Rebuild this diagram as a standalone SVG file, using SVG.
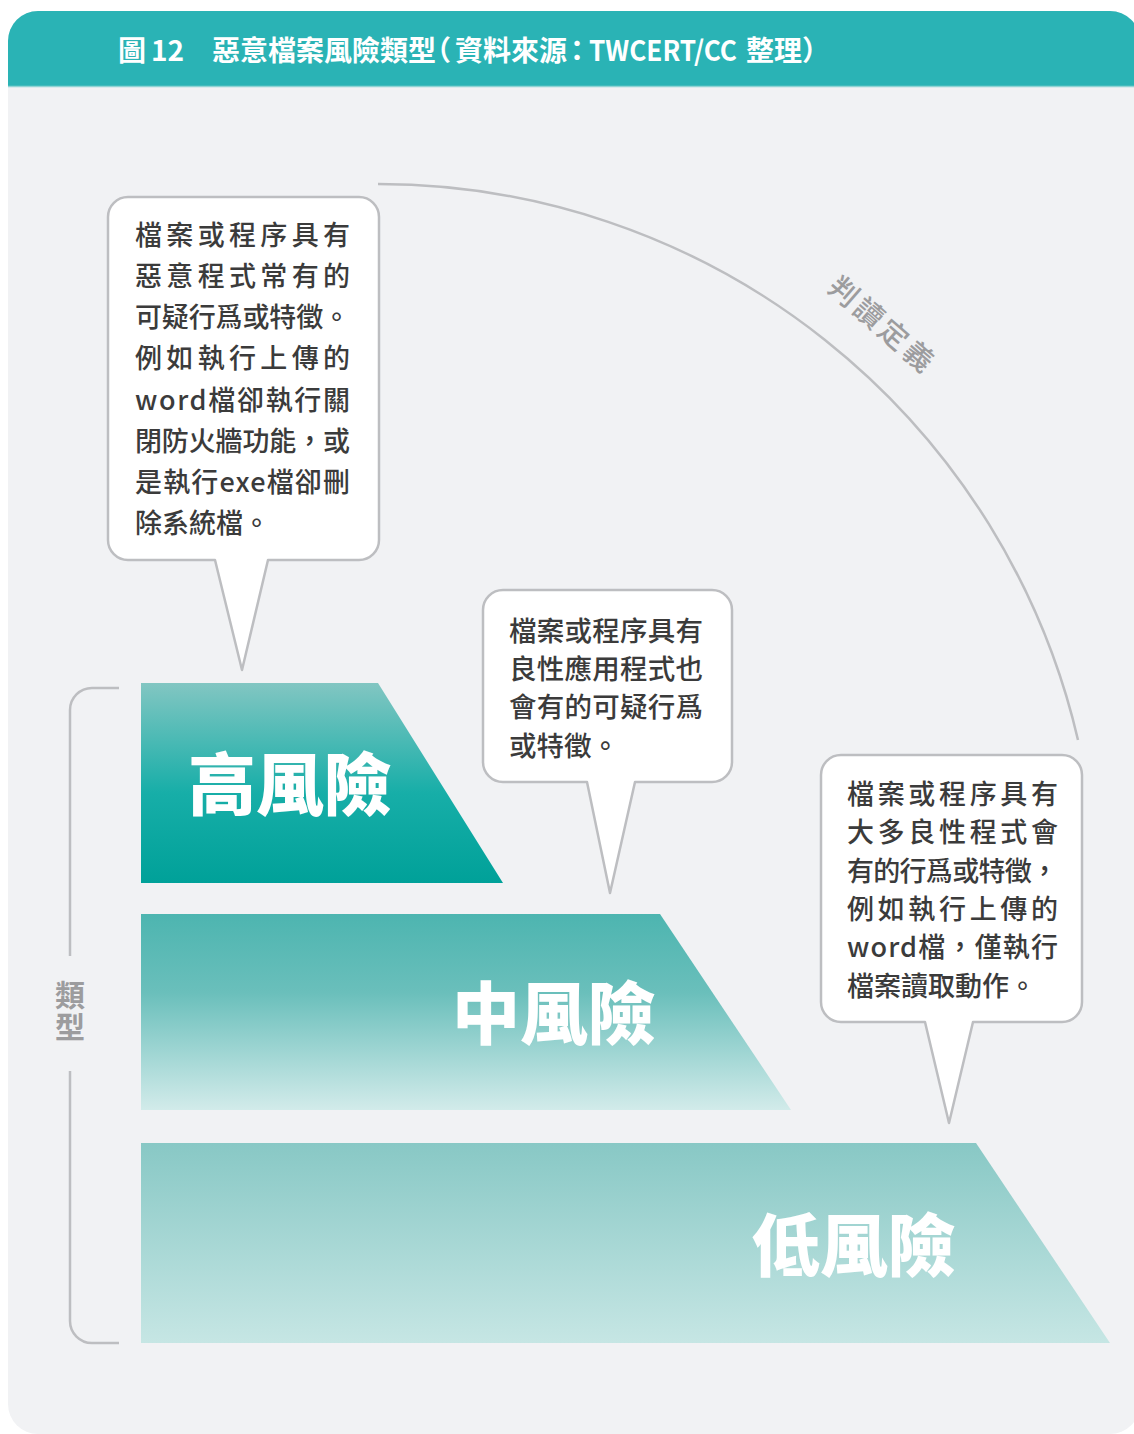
<svg xmlns="http://www.w3.org/2000/svg" width="1134" height="1434" viewBox="0 0 1134 1434">
<defs>
<style>
.cjk{font-family:"Noto Sans CJK TC","Noto Sans CJK SC","Noto Sans",sans-serif;}
.body{font-size:27px;font-weight:500;fill:#3b3b3b;}
.body2{font-size:27.5px;font-weight:500;fill:#3b3b3b;}
.big{font-size:68px;font-weight:900;fill:#ffffff;}
.callout{fill:#ffffff;stroke:#bdbec1;stroke-width:2.5;stroke-linejoin:round;}
.guide{fill:none;stroke:#bdbec1;stroke-width:2.5;}
.grey{fill:#9c9c9e;}
.half{font-feature-settings:"halt";}
</style>
<linearGradient id="gHigh" x1="0" y1="0" x2="0" y2="1">
<stop offset="0" stop-color="#82c6c2"/>
<stop offset="0.55" stop-color="#17aea8"/>
<stop offset="1" stop-color="#00a199"/>
</linearGradient>
<linearGradient id="gMid" x1="0" y1="0" x2="0" y2="1">
<stop offset="0" stop-color="#4db5b0"/>
<stop offset="0.4" stop-color="#6abfbb"/>
<stop offset="1" stop-color="#d2ebea"/>
</linearGradient>
<linearGradient id="gLow" x1="0" y1="0" x2="0" y2="1">
<stop offset="0" stop-color="#88c8c5"/>
<stop offset="1" stop-color="#c6e6e4"/>
</linearGradient>
</defs>
<rect x="0" y="0" width="1134" height="1434" fill="#ffffff"/>
<g id="panel">
<rect x="8" y="11" width="1132" height="1423" rx="30" ry="30" fill="#f1f2f4"/>
<path d="M 8 86 V 41 A 30 30 0 0 1 38 11 H 1110 A 30 30 0 0 1 1140 41 V 86 Z" fill="#2ab3b5"/>
<line x1="8" y1="86.5" x2="1140" y2="86.5" stroke="#8fd4d4" stroke-width="1.5"/>
</g>
<g id="title" class="cjk" font-size="28" font-weight="700" fill="#ffffff">
<text y="61"><tspan x="118">圖</tspan><tspan x="151">12</tspan><tspan x="212">惡意檔案風險類型</tspan><tspan class="half" x="437">（</tspan><tspan x="455">資料來源</tspan><tspan class="half" x="570">：</tspan><tspan x="589" textLength="148" lengthAdjust="spacingAndGlyphs">TWCERT/CC</tspan><tspan x="746">整理</tspan><tspan class="half" x="802">）</tspan></text>
</g>
<g id="connectors">
<path class="guide" d="M 378 184 A 718.6 718.6 0 0 1 1078 740"/>
<path class="guide" d="M 119 688 H 92 A 22 22 0 0 0 70 710 V 956"/>
<path class="guide" d="M 70 1071 V 1321 A 22 22 0 0 0 92 1343 H 119"/>
</g>
<g id="label-judge" class="cjk grey">
<text transform="translate(881.5 323.5) rotate(41)" x="-64" y="11" font-size="29" font-weight="500" textLength="128" lengthAdjust="spacing">判讀定義</text>
</g>
<g id="label-type" class="cjk grey">
<text x="70" y="980" font-size="30" font-weight="700" writing-mode="vertical-rl" letter-spacing="2">類型</text>
</g>
<g id="high-risk">
<polygon points="141,683 378,683 503,883 141,883" fill="url(#gHigh)"/>
<text class="cjk big" x="188" y="810">高風險</text>
</g>
<g id="mid-risk">
<polygon points="141,914 660,914 791,1110 141,1110" fill="url(#gMid)"/>
<text class="cjk big" x="452" y="1039">中風險</text>
</g>
<g id="low-risk">
<polygon points="141,1143 976,1143 1110,1343 141,1343" fill="url(#gLow)"/>
<text class="cjk big" x="752" y="1271">低風險</text>
</g>
<g id="callout-high">
<path class="callout" d="M 128 197 H 359 A 20 20 0 0 1 379 217 V 540 A 20 20 0 0 1 359 560 H 268 L 242 670 L 215 560 H 128 A 20 20 0 0 1 108 540 V 217 A 20 20 0 0 1 128 197 Z"/>
<g class="cjk body">
<text x="135" y="245" textLength="215" lengthAdjust="spacing">檔案或程序具有</text>
<text x="135" y="286" textLength="215" lengthAdjust="spacing">惡意程式常有的</text>
<text x="135" y="327" textLength="215" lengthAdjust="spacing">可疑行爲或特徵。</text>
<text x="135" y="368" textLength="215" lengthAdjust="spacing">例如執行上傳的</text>
<text x="135" y="410" textLength="215" lengthAdjust="spacing">word檔卻執行關</text>
<text x="135" y="451" textLength="215" lengthAdjust="spacing">閉防火牆功能，或</text>
<text x="135" y="492" textLength="215" lengthAdjust="spacing">是執行exe檔卻刪</text>
<text x="135" y="533">除系統檔。</text>
</g>
</g>
<g id="callout-mid">
<path class="callout" d="M 503 590 H 712 A 20 20 0 0 1 732 610 V 762 A 20 20 0 0 1 712 782 H 635 L 610 893 L 587 782 H 503 A 20 20 0 0 1 483 762 V 610 A 20 20 0 0 1 503 590 Z"/>
<g class="cjk body2">
<text x="509" y="641" textLength="194" lengthAdjust="spacing">檔案或程序具有</text>
<text x="509" y="679" textLength="194" lengthAdjust="spacing">良性應用程式也</text>
<text x="509" y="717" textLength="194" lengthAdjust="spacing">會有的可疑行爲</text>
<text x="509" y="756">或特徵。</text>
</g>
</g>
<g id="callout-low">
<path class="callout" d="M 841 755 H 1062 A 20 20 0 0 1 1082 775 V 1002 A 20 20 0 0 1 1062 1022 H 973 L 949 1123 L 925 1022 H 841 A 20 20 0 0 1 821 1002 V 775 A 20 20 0 0 1 841 755 Z"/>
<g class="cjk body">
<text x="847" y="804" textLength="211" lengthAdjust="spacing">檔案或程序具有</text>
<text x="847" y="842" textLength="211" lengthAdjust="spacing">大多良性程式會</text>
<text x="847" y="881" textLength="211" lengthAdjust="spacing">有的行爲或特徵，</text>
<text x="847" y="919" textLength="211" lengthAdjust="spacing">例如執行上傳的</text>
<text x="847" y="957" textLength="211" lengthAdjust="spacing">word檔，僅執行</text>
<text x="847" y="996">檔案讀取動作。</text>
</g>
</g>
</svg>
